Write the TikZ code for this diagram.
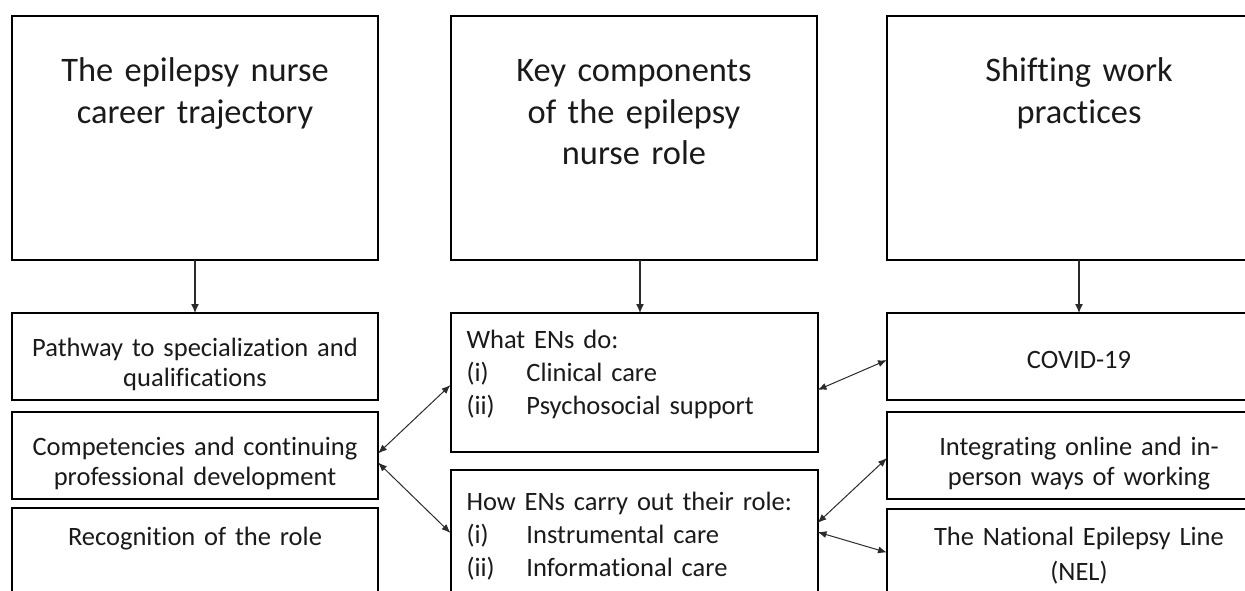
\documentclass[tikz,border=0pt]{standalone}
\usepackage{fontspec}
\setmainfont{Carlito}[Ligatures=NoCommon]
\usepackage{tikz}
\usetikzlibrary{arrows.meta,positioning}
\definecolor{enInk}{HTML}{1A1A1A}
\definecolor{enLine}{HTML}{2B2B2B}
\tikzset{
  enTopBox/.style={
    draw=black,
    line width=2pt,
    outer sep=0pt,
    align=center,
    text width=346pt,
    inner xsep=10pt,
    inner ysep=42pt,
    text height=24pt,
    text depth=136pt,
    font=\fontsize{34.4pt}{41.5pt}\selectfont
  },
  enSubBox/.style={
    draw=black,
    line width=2pt,
    outer sep=0pt,
    align=center,
    text width=346pt,
    inner xsep=10pt,
    inner ysep=2pt,
    minimum height=87pt,
    text height=24pt,
    text depth=24pt,
    font=\fontsize{26.5pt}{30pt}\selectfont
  },
  enListBox/.style={
    draw=black,
    line width=2pt,
    outer sep=0pt,
    align=left,
    text width=335pt,
    inner xsep=16pt,
    inner ysep=15pt,
    text height=20pt,
    text depth=89pt,
    font=\fontsize{26.5pt}{33pt}\selectfont
  },
  enArrow/.style={-{Latex[length=9pt,width=8pt]}, line width=1.1pt, draw=enLine},
  enLink/.style={{Latex[length=9pt,width=7pt]}-{Latex[length=9pt,width=7pt]}, line width=1pt, draw=enLine}
}

\begin{document}
\begin{tikzpicture}[x=1pt, y=-1pt, text=enInk]
  \useasboundingbox (0,0) rectangle (1245,591);
  \clip (0,0) rectangle (1245,591);

  % headings
  \node[enTopBox] (career) at (195,138) {The epilepsy nurse\\career trajectory};
  \node[enTopBox, right=73pt of career] (components) {Key components\\of the epilepsy\\nurse role};
  \node[enTopBox, text width=364pt, right=70pt of components] (shifting) {Shifting work\\practices};

  % left column
  \node[enSubBox, below=53pt of career] (pathway) {Pathway to specialization and\\qualifications};
  \node[enSubBox, below=12pt of pathway] (competencies) {Competencies and continuing\\professional development};
  \node[enSubBox, text depth=37pt, below=9pt of competencies] (recognition) {Recognition of the role};

  % middle column
  \node[enListBox, below=53pt of components] (whatdo) {What ENs do:\\
    \makebox[60pt][l]{(i)}Clinical care\\
    \makebox[60pt][l]{(ii)}Psychosocial support};
  \node[enListBox, text height=25pt, text depth=84pt, below=18pt of whatdo] (howdo) {How ENs carry out their role:\\
    \makebox[60pt][l]{(i)}Instrumental care\\
    \makebox[60pt][l]{(ii)}Informational care};

  % right column
  \node[enSubBox, text width=364pt, text depth=0pt, below=53pt of shifting] (covid) {COVID-19};
  \node[enSubBox, text width=364pt, below=12pt of covid] (hybrid) {Integrating online and in-\\person ways of working};
  \node[enSubBox, text width=364pt, text depth=39pt, below=10pt of hybrid] (nel) {The National Epilepsy Line\\[5pt](NEL)};

  \foreach \a/\b/\s in {career/pathway/0,components/whatdo/6,shifting/covid/0}
    \draw[enArrow] ([xshift=\s pt]\a.south) -- ([xshift=\s pt]\b.north);

  \draw[enLink] ([yshift=2pt]competencies.east) -- ([yshift=-2.5pt]whatdo.west);
  \draw[enLink] ([yshift=-7pt]competencies.east) -- ([yshift=6.5pt]howdo.west);
  \draw[enLink] ([yshift=-7.5pt]whatdo.east) -- ([yshift=-3.5pt]covid.west);
  \draw[enLink] ([yshift=16.5pt]howdo.east) -- ([yshift=-2.5pt]hybrid.west);
  \draw[enLink] ([yshift=7.5pt]howdo.east) -- (nel.west);
\end{tikzpicture}
\end{document}
